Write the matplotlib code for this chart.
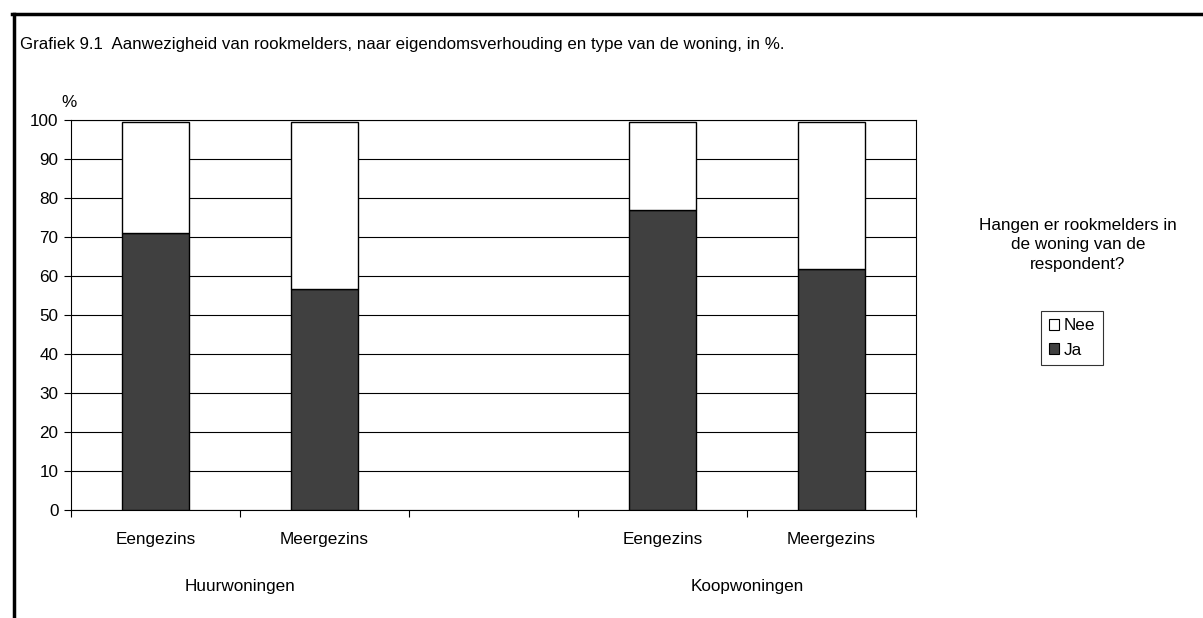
import matplotlib
matplotlib.use("Agg")
import matplotlib.pyplot as plt
from matplotlib.lines import Line2D
from matplotlib.patches import Patch

plt.rcParams['font.family'] = ['Liberation Sans', 'DejaVu Sans']

categories = ["Eengezins", "Meergezins", "", "Eengezins", "Meergezins"]
groups = ["Huurwoningen", "Koopwoningen"]
ja = [71.0, 56.6, None, 76.9, 61.8]
nee = [28.6, 43.0, None, 22.7, 37.8]
yticks = list(range(0, 101, 10))

FS = 12.3
W, H = 1203, 618
fig = plt.figure(figsize=(W / 100, H / 100), dpi=100)
ax = fig.add_axes([71 / W, 1 - 510 / H, (916 - 71) / W, (510 - 120) / H])

idx = [i for i, v in enumerate(ja) if v is not None]
jv = [ja[i] for i in idx]
nv = [nee[i] for i in idx]
ax.bar(idx, jv, width=0.4, color="#404040", edgecolor="black", linewidth=1, zorder=3, label="Ja")
ax.bar(idx, nv, bottom=jv, width=0.4, color="white", edgecolor="black", linewidth=1, zorder=3, label="Nee")

ax.set_xlim(-0.5, len(categories) - 0.5)
ax.set_ylim(0, 100)
ax.set_yticks(yticks)
ax.yaxis.grid(True, color="black", linewidth=0.8)
ax.set_axisbelow(True)
for s in ax.spines.values():
    s.set_color("black")
    s.set_linewidth(0.8)

ax.set_xticks([i - 0.5 for i in range(len(categories) + 1)])
ax.set_xticklabels([])
ax.set_xticks(range(len(categories)), minor=True)
ax.set_xticklabels(categories, minor=True)
ax.tick_params(axis="x", which="major", direction="out", length=5, width=0.8)
ax.tick_params(axis="x", which="minor", length=0, pad=16, labelsize=FS)
ax.tick_params(axis="y", direction="out", length=5, width=0.8, labelsize=FS, pad=4)

for gi, g in enumerate(groups):
    ax.text(0.5 + 3 * gi, -19.5, g, ha="center", va="center", fontsize=FS, transform=ax.transData)

ax.text(-0.555, 104.5, "%", ha="left", va="center", fontsize=FS)

fig.text(20 / W, 1 - 45 / H, "Grafiek 9.1  Aanwezigheid van rookmelders, naar eigendomsverhouding en type van de woning, in %.",
         ha="left", va="center", fontsize=12.2)

fig.text(1078 / W, 1 - 245 / H, "Hangen er rookmelders in\nde woning van de\nrespondent?",
         ha="center", va="center", fontsize=FS, linespacing=1.4)

handles = [Patch(facecolor="white", edgecolor="black", linewidth=0.8, label="Nee"),
           Patch(facecolor="#404040", edgecolor="black", linewidth=0.8, label="Ja")]
leg = fig.legend(handles=handles, loc="center", bbox_to_anchor=(1072 / W, 1 - 338 / H),
                 frameon=True, fancybox=False, fontsize=FS, handlelength=0.6, handleheight=0.6,
                 handletextpad=0.3, borderpad=0.45, labelspacing=0.55, borderaxespad=0)
leg.get_frame().set_edgecolor("black")
leg.get_frame().set_linewidth(0.8)

fig.add_artist(Line2D([13.5 / W, 13.5 / W], [0, 1 - 13.5 / H], color="black", linewidth=2.5, transform=fig.transFigure))
fig.add_artist(Line2D([12 / W, 1], [1 - 13.5 / H, 1 - 13.5 / H], color="black", linewidth=2.5, transform=fig.transFigure))

fig.savefig("out.png", dpi=100)
